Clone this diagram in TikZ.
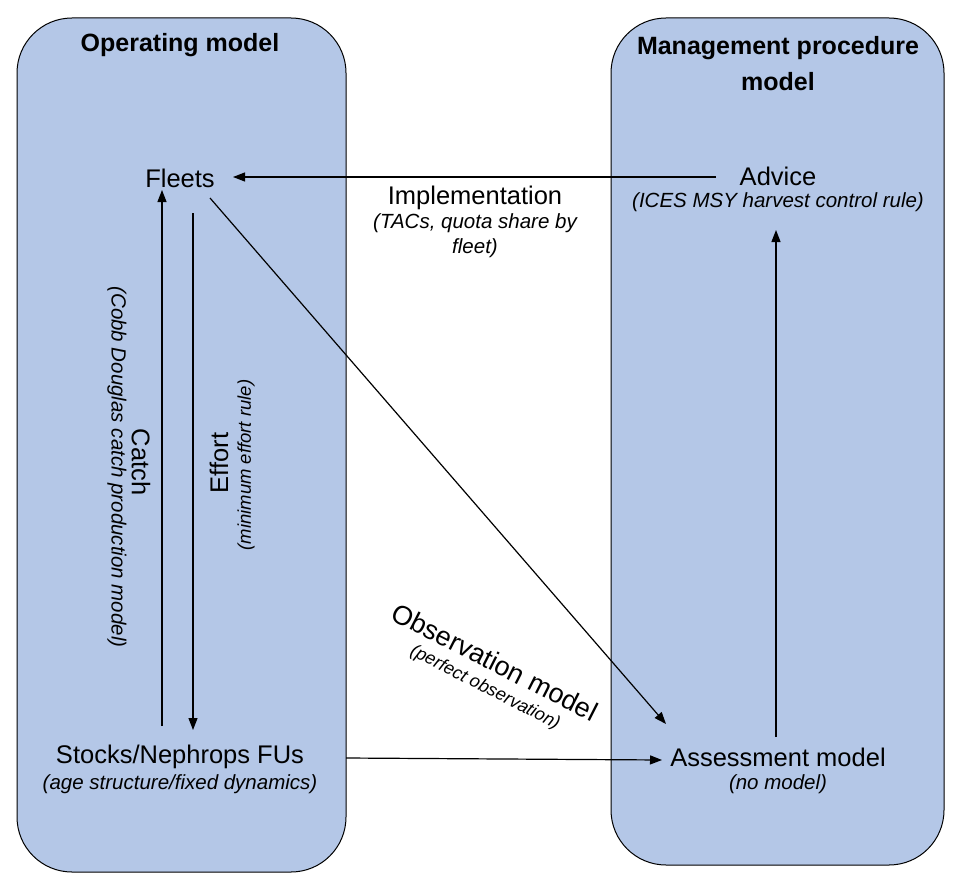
\documentclass[tikz,border=0pt]{standalone}
\usepackage{fontspec}
\setmainfont{Liberation Sans}
\usetikzlibrary{arrows.meta}
\definecolor{panel}{HTML}{B4C7E7}
\begin{document}
\begin{tikzpicture}[x=1pt,y=-1pt,
  panelbox/.style={draw=black,line width=1pt,fill=panel,rounded corners=55pt},
  lbl/.style={font=\fontsize{25.5}{30}\selectfont,inner sep=0pt},
  sub/.style={font=\fontsize{20.5}{25}\selectfont\itshape,inner sep=0pt,align=center},
  ttl/.style={font=\fontsize{25}{36}\selectfont\bfseries,inner sep=0pt,align=center},
  arr/.style={-{Triangle[length=12pt,width=9pt]},line width=1.2pt}]
\useasboundingbox (0,0) rectangle (960,880);
\draw[panelbox] (17,18) rectangle (346,872);
\draw[panelbox] (611,18) rectangle (944,865);
\node[ttl] (om) at (180,45) {Operating model};
\node[ttl] (mp) at (778,64) {Management procedure\\model};
\node[lbl] (fleets) at (180,178) {Fleets};
\node[lbl] (advice) at (778,176) {Advice};
\node[sub] (advsub) at (778,202) {(ICES MSY harvest control rule)};
\node[lbl] (impl) at (475,198) {Implementation};
\node[sub] (implsub) at (475,236) {(TACs, quota share by\\fleet)};
\node[lbl] (stocks) at (180,757) {Stocks/Nephrops FUs};
\node[sub] (stsub) at (180,784) {(age structure/fixed dynamics)};
\node[lbl] (assess) at (778,757) {Assessment model};
\node[sub] (assub) at (778,784) {(no model)};
\coordinate (advL) at (716,177);
\coordinate (flR) at (233,177);
\draw[arr] (advL) -- (flR);
\coordinate (cb) at (162,726);
\coordinate (ct) at (162,190);
\draw[arr] (cb) -- (ct);
\coordinate (et) at (193,213);
\coordinate (eb) at (193,730);
\draw[arr] (et) -- (eb);
\node[lbl,rotate=90] (effort) at (219,463) {Effort};
\node[sub,rotate=90,font=\fontsize{18.5}{22}\selectfont\itshape] (effsub) at (246,465) {(minimum effort rule)};
\node[lbl,rotate=-90] (catch) at (141,462) {Catch};
\node[sub,rotate=-90] (catchsub) at (117,467) {(Cobb Douglas catch production model)};
\coordinate (d1) at (210,198);
\coordinate (d2) at (666,724);
\draw[arr] (d1) -- (d2);
\node[lbl,rotate=-27,font=\fontsize{27}{32}\selectfont] (obs) at (495,662) {Observation model};
\node[sub,rotate=-27,font=\fontsize{18}{22}\selectfont\itshape] (obssub) at (485,688) {(perfect observation)};
\coordinate (s1) at (346,758);
\coordinate (s2) at (662,760);
\draw[arr] (s1) -- (s2);
\coordinate (a1) at (776,737);
\coordinate (a2) at (776,230);
\draw[arr] (a1) -- (a2);
\end{tikzpicture}
\end{document}
